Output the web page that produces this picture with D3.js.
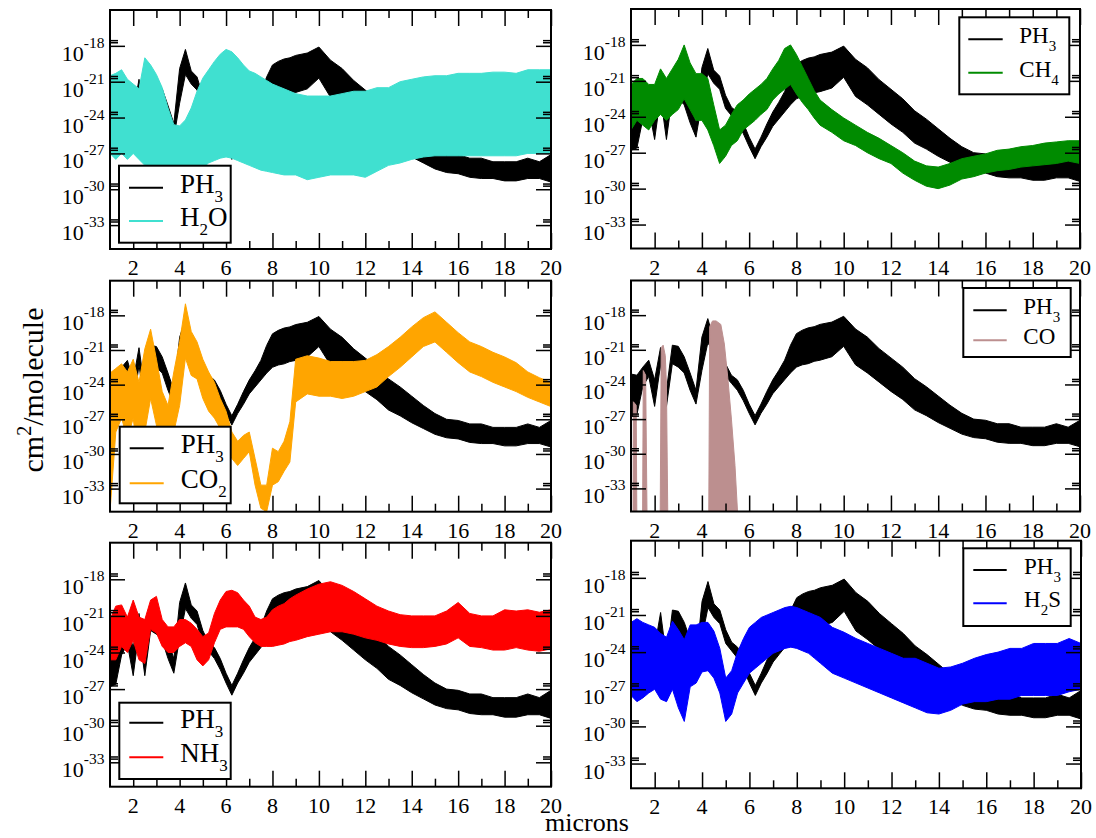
<!DOCTYPE html>
<html>
<head>
<meta charset="utf-8">
<script src="https://cdn.jsdelivr.net/npm/d3@7/dist/d3.min.js"></script>
<style>
html,body{margin:0;padding:0;background:#fff;}
svg{display:block;}
text{font-family:"Liberation Serif","Times New Roman","DejaVu Serif",serif;fill:#000;}
</style>
</head>
<body>
<svg id="chart" width="1096" height="838" font-family="Liberation Serif, Times New Roman, serif"></svg>
<script>
// ---------- DATA (log10 of cross-section, cm^2/molecule) ----------
const microns = [1,1.25,1.5,1.75,2,2.25,2.5,2.75,3,3.25,3.5,3.75,4,4.25,4.5,4.75,5,5.25,5.5,5.75,6,6.25,6.5,6.75,7,7.25,7.5,7.75,8,8.25,8.5,8.75,9,9.5,10,10.5,11,11.5,12,12.5,13,13.5,14,14.5,15,15.5,16,16.5,17,17.5,18,18.5,19,19.5,20];

const ph3Hi = [-23.1,-23.2,-22.5,-21.9,-23.6,-20.8,-24.5,-20.6,-20.7,-21.6,-23.0,-24.5,
  -19.9,-18.3,-20.1,-20.6,-22.2,-23.2,-23.6,-24.5,-25.7,-26.7,-25.7,-24.6,
  -23.6,-22.8,-21.9,-20.6,-19.6,-19.3,-19.1,-19.0,-18.8,
  -18.6,-18.1,-19.2,-19.9,-20.9,-21.7,-22.5,-23.5,-24.2,-25.0,-25.8,-26.5,-27.0,-27.1,-27.4,-27.4,-27.7,-27.7,-27.7,-27.4,-27.7,-27.1];
const ph3Lo = [-26.8,-26.6,-24.2,-23.3,-25.9,-22.3,-25.9,-22.2,-22.5,-23.0,-24.5,-25.7,
  -22.8,-20.4,-21.2,-21.7,-23.3,-23.9,-24.5,-25.4,-26.5,-27.5,-26.5,-25.7,
  -24.8,-24.2,-23.6,-23.0,-22.5,-22.3,-22.2,-22.0,-21.9,
  -21.6,-20.7,-22.3,-23.0,-23.8,-24.6,-25.3,-26.2,-26.7,-27.3,-27.8,-28.3,-28.6,-28.7,-29.0,-29.1,-29.1,-29.3,-29.3,-29.1,-29.1,-29.4];

const h2oHi = [-20.5,-20.3,-20.0,-20.8,-21.2,-21.6,-19.0,-19.6,-20.4,-21.5,-23.2,-24.6,
  -24.7,-24.2,-23.2,-21.8,-20.7,-20.0,-19.3,-18.7,-18.3,-18.5,-19.0,-19.6,
  -20.1,-20.3,-20.6,-20.9,-21.2,-21.4,-21.6,-21.8,-22.0,
  -22.2,-22.2,-22.2,-22.0,-21.8,-21.8,-21.5,-21.5,-21.0,-20.8,-20.6,-20.5,-20.5,-20.3,-20.3,-20.3,-20.2,-20.2,-20.3,-20.0,-20.0,-20.0];
const h2oLo = [-27.0,-27.5,-27.0,-27.5,-27.0,-27.5,-28.0,-28.5,-28.3,-28.5,-29.3,-30.0,
  -30.2,-30.0,-29.3,-28.6,-28.2,-27.8,-27.6,-27.4,-27.3,-27.4,-27.6,-27.8,
  -28.0,-28.2,-28.4,-28.5,-28.6,-28.7,-28.8,-28.8,-28.8,
  -29.2,-29.0,-28.8,-28.8,-28.8,-29.0,-28.5,-28.0,-27.8,-27.5,-27.3,-27.2,-27.2,-27.2,-27.2,-27.2,-27.2,-27.2,-27.2,-27.0,-27.0,-27.0];

const ch4Hi = [-21.3,-20.8,-20.8,-21.3,-21.3,-20.0,-20.8,-20.0,-19.2,-18.0,-19.5,-20.4,
  -20.4,-20.8,-23.0,-25.1,-24.7,-23.8,-23.0,-22.6,-22.1,-21.7,-21.3,-20.8,
  -20.0,-19.3,-18.3,-18.0,-18.8,-19.8,-20.8,-21.8,-22.6,
  -23.4,-24.1,-24.7,-25.3,-25.8,-26.4,-27.0,-27.7,-28.1,-28.2,-27.9,-27.5,-27.3,-27.1,-26.8,-26.7,-26.5,-26.4,-26.2,-26.1,-26.0,-26.0];
const ch4Lo = [-25.1,-24.3,-24.7,-25.1,-24.3,-23.8,-24.3,-23.8,-23.4,-22.5,-23.4,-24.3,
  -24.3,-25.1,-26.4,-27.9,-27.3,-26.4,-26.0,-25.1,-24.7,-24.3,-23.8,-23.4,
  -22.6,-22.1,-21.7,-21.3,-22.1,-22.8,-23.4,-24.1,-24.7,
  -25.3,-26.0,-26.4,-27.0,-27.5,-27.9,-28.7,-29.3,-29.8,-30.0,-29.7,-29.2,-29.0,-28.7,-28.5,-28.4,-28.2,-28.1,-28.0,-27.9,-27.7,-27.9];

const co2Hi = [-23.0,-22.6,-22.2,-22.9,-21.8,-23.8,-20.9,-19.2,-21.8,-24.6,-25.8,-22.9,
  -20.3,-17.0,-19.4,-20.3,-21.8,-22.9,-23.8,-25.2,-26.3,-28.1,-28.9,-28.4,
  -28.1,-30.4,-32.7,-32.7,-29.5,-29.8,-28.9,-27.2,-21.8,
  -21.5,-21.7,-22.0,-22.0,-22.0,-21.9,-21.4,-20.7,-19.9,-19.0,-18.2,-17.7,-18.6,-19.5,-20.3,-20.7,-21.2,-21.6,-22.1,-22.9,-23.4,-23.8];
const co2Lo = [-35.0,-28.1,-26.9,-28.7,-26.9,-31.0,-28.1,-25.2,-27.5,-31.0,-32.7,-28.1,
  -25.8,-21.7,-23.2,-23.5,-25.2,-26.3,-26.9,-27.8,-28.7,-30.4,-31.0,-30.4,
  -29.8,-32.7,-34.7,-35.0,-32.7,-32.4,-31.5,-30.7,-25.5,
  -24.8,-25.0,-25.0,-25.2,-25.0,-24.6,-24.2,-23.3,-22.5,-21.6,-20.7,-20.3,-21.2,-22.1,-22.9,-23.3,-23.8,-24.2,-24.6,-25.1,-25.5,-25.9];

const nh3Hi = [-21.3,-20.2,-20.1,-21.1,-19.7,-21.1,-21.3,-19.7,-19.4,-21.3,-21.9,-21.9,
  -21.3,-21.3,-21.6,-22.1,-22.7,-22.4,-20.8,-19.7,-19.0,-18.9,-19.1,-19.7,
  -20.2,-21.1,-21.3,-21.1,-20.5,-20.2,-20.0,-19.6,-19.3,
  -18.8,-18.4,-18.2,-18.5,-19.0,-19.6,-20.2,-20.6,-20.9,-21.0,-21.0,-21.0,-20.6,-19.9,-20.8,-21.0,-21.0,-20.5,-20.6,-20.5,-20.7,-20.5];
const nh3Lo = [-24.6,-24.6,-23.5,-24.0,-23.0,-24.6,-24.9,-22.1,-22.4,-23.5,-24.0,-24.0,
  -23.5,-23.2,-23.5,-24.6,-25.1,-24.6,-23.2,-22.1,-21.9,-21.9,-21.9,-22.1,
  -22.7,-23.2,-23.5,-23.5,-23.5,-23.4,-23.3,-23.1,-23.0,
  -22.7,-22.5,-22.3,-22.3,-22.5,-22.8,-23.0,-23.3,-23.5,-23.6,-23.6,-23.5,-23.3,-22.8,-23.5,-23.6,-23.8,-23.8,-23.6,-23.8,-23.9,-23.7];

const h2sHi = [-21.6,-21.3,-21.6,-21.8,-22.0,-22.5,-22.8,-21.5,-22.2,-23.0,-21.8,-21.8,
  -21.6,-21.6,-22.3,-23.7,-26.1,-25.5,-24.0,-22.9,-22.0,-21.6,-21.2,-21.0,
  -20.8,-20.6,-20.4,-20.3,-20.4,-20.6,-20.8,-21.0,-21.2,
  -22.0,-22.4,-22.9,-23.3,-23.7,-24.1,-24.5,-24.5,-24.9,-25.3,-25.2,-24.9,-24.5,-24.2,-24.0,-23.7,-23.7,-23.3,-23.3,-23.3,-22.9,-23.3];
const h2sLo = [-27.5,-28.0,-27.7,-27.3,-27.0,-27.8,-28.0,-27.0,-28.5,-29.6,-26.8,-26.5,
  -25.6,-25.5,-26.1,-27.3,-29.6,-29.0,-27.3,-26.5,-25.7,-25.3,-24.9,-24.5,
  -24.1,-23.9,-23.7,-23.6,-23.7,-23.9,-24.1,-24.5,-24.9,
  -25.7,-26.1,-26.5,-26.9,-27.3,-27.7,-28.1,-28.5,-28.9,-29.0,-28.7,-28.2,-28.0,-28.0,-27.8,-27.8,-27.5,-27.5,-27.5,-27.5,-27.2,-27.0];

// CO: isolated bands (upper envelope; -40 = far below the axis floor)
const coMicrons = [1.00,1.08,1.10,1.22,1.26,1.48,1.52,1.62,1.70,2.22,2.28,2.36,2.45,2.50,2.58,4.28,4.33,4.45,4.60,4.80,4.95,5.10,5.25,5.40,5.52,20.0];
const coLog     = [-40,-40,-25.5,-25.8,-40,-40,-22.8,-23.2,-40,-40,-20.8,-20.6,-21.5,-24.0,-40,-40,-19.0,-18.5,-18.5,-18.8,-20.5,-23.5,-27.0,-31.0,-35.5,-40];

const xMajorTicks = [2,4,6,8,10,12,14,16,18,20];
const xMinorTicks = [3,5,7,9,11,13,15,17,19];
const yTickExps = [-18,-21,-24,-27,-30,-33];

const legendNames = {
  PH3:["PH","3",""], H2O:["H","2","O"], CH4:["CH","4",""], CO2:["CO","2",""],
  CO:["CO","",""], NH3:["NH","3",""], H2S:["H","2","S"]
};

// ---------- STYLE / LAYOUT ----------
const colors = {PH3:"#000000", H2O:"#40E0D0", CH4:"#008B00", CO2:"#FFA500", CO:"#BC8F8F", NH3:"#FF0000", H2S:"#0000FF"};
const bandSeries = {H2O:[h2oHi,h2oLo], CH4:[ch4Hi,ch4Lo], CO2:[co2Hi,co2Lo], NH3:[nh3Hi,nh3Lo], H2S:[h2sHi,h2sLo]};

const layout = [
 {mol:"H2O", x0:110, x1:551, y0:10,    y1:249,   lg:{x:119,   y:165.7, w:111.7, h:77,   r1:22,   r2:55.3, lx0:10, lx1:44,   tx:61,   fs:27, sfs:17, sdy:9}},
 {mol:"CH4", x0:631, x1:1080,y0:9,     y1:248.5, lg:{x:959.3, y:17.3,  w:110,   h:77,   r1:22,   r2:55.4, lx0:9,  lx1:43.4, tx:60,   fs:23, sfs:15, sdy:8}},
 {mol:"CO2", x0:110, x1:551, y0:280.7, y1:511.7, lg:{x:119.7, y:426.7, w:111,   h:76.6, r1:21.6, r2:56.6, lx0:10, lx1:44,   tx:61,   fs:27, sfs:17, sdy:9}},
 {mol:"CO",  x0:631, x1:1080,y0:280.5, y1:511.5, lg:{x:963.3, y:288,   w:107.4, h:69,   r1:22.3, r2:52.3, lx0:10, lx1:43.4, tx:60,   fs:23, sfs:15, sdy:8}},
 {mol:"NH3", x0:110, x1:551, y0:542.7, y1:786.7, lg:{x:119.3, y:702.7, w:111.4, h:76.3, r1:20,   r2:54.6, lx0:10, lx1:44,   tx:61,   fs:27, sfs:17, sdy:9}},
 {mol:"H2S", x0:631, x1:1081,y0:540.7, y1:788.3, lg:{x:963.3, y:548.3, w:107.4, h:77.7, r1:21.7, r2:55,   lx0:10, lx1:43.4, tx:60.7, fs:23, sfs:15, sdy:8}}
];

const svg = d3.select("#chart");
const defs = svg.append("defs");

function richText(g, x, y, parts, fs, subFs, subDy) {
  const t = g.append("text").attr("x", x).attr("y", y).attr("font-size", fs);
  t.append("tspan").text(parts[0]);
  if (parts[1]) t.append("tspan").attr("font-size", subFs).attr("dy", subDy).text(parts[1]);
  if (parts[2]) t.append("tspan").attr("dy", -subDy).text(parts[2]);
  return t;
}

const ph3Rows = microns.map((m, i) => ({m, hi: Math.pow(10, ph3Hi[i]), lo: Math.pow(10, ph3Lo[i])}));

layout.forEach((p, idx) => {
  const x = d3.scaleLinear().domain([1, 20]).range([p.x0, p.x1]);
  const y = d3.scaleLog().domain([1e-35, 1e-15]).range([p.y1, p.y0]);
  const g = svg.append("g");

  const clipId = "clip" + idx;
  defs.append("clipPath").attr("id", clipId).append("rect")
    .attr("x", p.x0).attr("y", p.y0).attr("width", p.x1 - p.x0).attr("height", p.y1 - p.y0);
  const plot = g.append("g").attr("clip-path", `url(#${clipId})`);

  const band = d3.area().x(d => x(d.m)).y0(d => y(d.lo)).y1(d => y(d.hi));

  plot.append("path").datum(ph3Rows).attr("d", band)
    .attr("fill", colors.PH3).attr("stroke", colors.PH3).attr("stroke-width", 1).attr("stroke-linejoin", "round");

  if (p.mol === "CO") {
    const coRows = coMicrons.map((m, i) => ({m, v: Math.pow(10, coLog[i])}));
    const coArea = d3.area().x(d => x(d.m)).y0(y(1e-40)).y1(d => y(d.v));
    plot.append("path").datum(coRows).attr("d", coArea)
      .attr("fill", colors.CO).attr("stroke", colors.CO).attr("stroke-width", 1);
  } else {
    const [hiArr, loArr] = bandSeries[p.mol];
    const rows = microns.map((m, i) => ({m, hi: Math.pow(10, hiArr[i]), lo: Math.pow(10, loArr[i])}));
    plot.append("path").datum(rows).attr("d", band)
      .attr("fill", colors[p.mol]).attr("stroke", colors[p.mol]).attr("stroke-width", 1).attr("stroke-linejoin", "round");
  }

  // ticks
  const yMinor = [];
  yTickExps.forEach(e => { yMinor.push(2 * Math.pow(10, e)); yMinor.push(3 * Math.pow(10, e)); });
  const yMajor = yTickExps.map(e => Math.pow(10, e));
  function ticks(axis, tr) {
    const a = g.append("g").attr("transform", tr).call(axis);
    a.select(".domain").remove();
    a.selectAll("text").remove();
    a.selectAll("line").attr("stroke", "#000").attr("stroke-width", 1.5);
  }
  ticks(d3.axisBottom(x).tickValues(xMajorTicks).tickSize(-16).tickFormat(""), `translate(0,${p.y1})`);
  ticks(d3.axisBottom(x).tickValues(xMinorTicks).tickSize(-8).tickFormat(""), `translate(0,${p.y1})`);
  ticks(d3.axisTop(x).tickValues(xMajorTicks).tickSize(-16).tickFormat(""), `translate(0,${p.y0})`);
  ticks(d3.axisTop(x).tickValues(xMinorTicks).tickSize(-8).tickFormat(""), `translate(0,${p.y0})`);
  ticks(d3.axisLeft(y).tickValues(yMajor).tickSize(-15).tickFormat(""), `translate(${p.x0},0)`);
  ticks(d3.axisLeft(y).tickValues(yMinor).tickSize(-8).tickFormat(""), `translate(${p.x0},0)`);
  ticks(d3.axisRight(y).tickValues(yMajor).tickSize(-15).tickFormat(""), `translate(${p.x1},0)`);
  ticks(d3.axisRight(y).tickValues(yMinor).tickSize(-8).tickFormat(""), `translate(${p.x1},0)`);

  // frame
  g.append("rect").attr("x", p.x0).attr("y", p.y0).attr("width", p.x1 - p.x0).attr("height", p.y1 - p.y0)
    .attr("fill", "none").attr("stroke", "#000").attr("stroke-width", 2);

  // x tick labels
  xMajorTicks.forEach(v => {
    g.append("text").attr("x", x(v)).attr("y", p.y1 + 26).attr("text-anchor", "middle")
      .attr("font-size", 22).text(v);
  });
  // y tick labels
  yTickExps.forEach(e => {
    const t = g.append("text").attr("x", p.x0 - 5.5).attr("y", y(Math.pow(10, e)) + 15)
      .attr("text-anchor", "end").attr("font-size", 22);
    t.append("tspan").text("10");
    t.append("tspan").attr("font-size", 15.5).attr("dy", -13).text(String(e));
  });

  // legend
  const L = p.lg;
  const lg = g.append("g");
  lg.append("rect").attr("x", L.x).attr("y", L.y).attr("width", L.w).attr("height", L.h)
    .attr("fill", "#fff").attr("stroke", "#000").attr("stroke-width", 2);
  [["PH3", L.r1], [p.mol, L.r2]].forEach(([k, r]) => {
    lg.append("line").attr("x1", L.x + L.lx0).attr("x2", L.x + L.lx1)
      .attr("y1", L.y + r).attr("y2", L.y + r).attr("stroke", colors[k]).attr("stroke-width", 2);
    richText(lg, L.x + L.tx, L.y + r + (L.fs > 25 ? 5 : 4), legendNames[k], L.fs, L.sfs, L.sdy);
  });
});

// axis titles
svg.append("text").attr("x", 587).attr("y", 831).attr("text-anchor", "middle").attr("font-size", 26).text("microns");
const yt = svg.append("text").attr("transform", "translate(43,390) rotate(-90)").attr("text-anchor", "middle").attr("font-size", 30);
yt.append("tspan").text("cm");
yt.append("tspan").attr("font-size", 20).attr("dy", -12).text("2");
yt.append("tspan").attr("dy", 12).text("/molecule");
</script>
</body>
</html>
